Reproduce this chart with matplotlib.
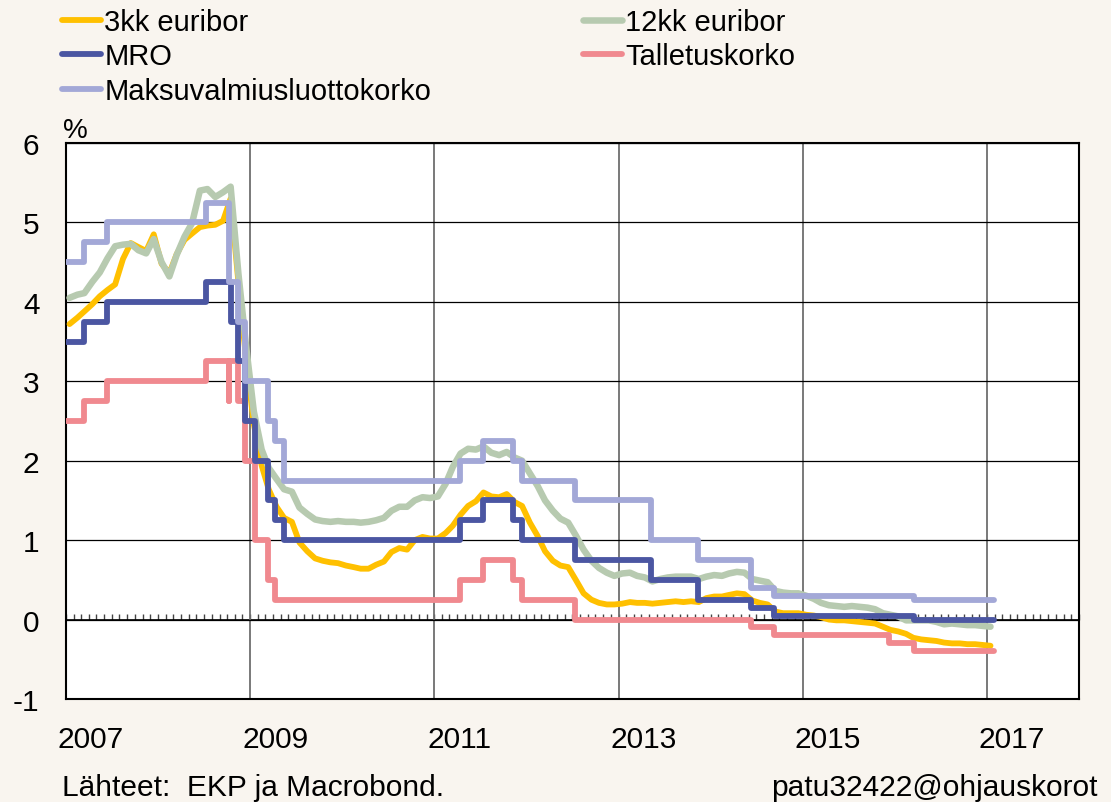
"""Euribor and ECB policy rates, 2007-2017."""

import matplotlib.dates as mdates
import matplotlib.pyplot as plt
import matplotlib.ticker as mticker
import pandas as pd

plt.rcParams["font.family"] = ["Liberation Sans", "DejaVu Sans"]
plt.rcParams["axes.unicode_minus"] = False

# monthly values (%), Jan 2007 .. Jan 2017
euribor_3m = [
    3.72, 3.80, 3.88, 3.97, 4.07, 4.15, 4.22, 4.54, 4.74, 4.69, 4.64, 4.85,
    4.48, 4.36, 4.60, 4.78, 4.86, 4.94, 4.96, 4.97, 5.02, 5.30, 4.24, 3.29,
    2.46, 1.94, 1.64, 1.42, 1.28, 1.23, 0.97, 0.86, 0.77, 0.74, 0.72, 0.71,
    0.68, 0.66, 0.64, 0.64, 0.69, 0.73, 0.85, 0.90, 0.88, 1.00, 1.04, 1.02,
    1.02, 1.09, 1.18, 1.32, 1.43, 1.49, 1.60, 1.55, 1.54, 1.58, 1.48, 1.43,
    1.22, 1.05, 0.86, 0.74, 0.68, 0.66, 0.50, 0.33, 0.25, 0.21, 0.19, 0.19,
    0.20, 0.22, 0.21, 0.21, 0.20, 0.21, 0.22, 0.23, 0.22, 0.23, 0.22, 0.27,
    0.29, 0.29, 0.31, 0.33, 0.32, 0.24, 0.21, 0.19, 0.10, 0.08, 0.08, 0.08,
    0.06, 0.05, 0.03, 0.00, -0.01, -0.01, -0.02, -0.03, -0.04, -0.05, -0.09, -0.13,
    -0.15, -0.18, -0.23, -0.25, -0.26, -0.27, -0.29, -0.30, -0.30, -0.31, -0.31, -0.32,
    -0.33,
]
euribor_12m = [
    4.05, 4.09, 4.11, 4.25, 4.37, 4.55, 4.70, 4.72, 4.73, 4.65, 4.61, 4.79,
    4.50, 4.32, 4.59, 4.82, 4.99, 5.40, 5.42, 5.32, 5.38, 5.45, 4.35, 3.45,
    2.62, 2.14, 1.91, 1.77, 1.64, 1.61, 1.41, 1.33, 1.26, 1.24, 1.23, 1.24,
    1.23, 1.23, 1.22, 1.23, 1.25, 1.28, 1.37, 1.42, 1.42, 1.50, 1.54, 1.53,
    1.55, 1.71, 1.92, 2.09, 2.15, 2.14, 2.18, 2.10, 2.07, 2.11, 2.04, 2.00,
    1.84, 1.68, 1.50, 1.37, 1.27, 1.22, 1.06, 0.88, 0.74, 0.65, 0.59, 0.55,
    0.58, 0.59, 0.55, 0.53, 0.48, 0.51, 0.53, 0.54, 0.54, 0.54, 0.51, 0.54,
    0.56, 0.55, 0.58, 0.60, 0.59, 0.51, 0.49, 0.47, 0.36, 0.34, 0.33, 0.33,
    0.30, 0.26, 0.21, 0.18, 0.17, 0.16, 0.17, 0.16, 0.15, 0.13, 0.08, 0.06,
    0.04, -0.01, -0.01, -0.01, -0.01, -0.03, -0.06, -0.05, -0.06, -0.07, -0.07, -0.08,
    -0.09,
]

# ECB policy rates: dates of change and new level
mro_dates = [
    "2007-01-01", "2007-03-14", "2007-06-13", "2008-07-09", "2008-10-15",
    "2008-11-12", "2008-12-10", "2009-01-21", "2009-03-11", "2009-04-08",
    "2009-05-13", "2011-04-13", "2011-07-13", "2011-11-09", "2011-12-14",
    "2012-07-11", "2013-05-08", "2013-11-13", "2014-06-11", "2014-09-10",
    "2016-03-16",
]
mro_rates = [
    3.50, 3.75, 4.00, 4.25, 3.75, 3.25, 2.50, 2.00, 1.50, 1.25, 1.00,
    1.25, 1.50, 1.25, 1.00, 0.75, 0.50, 0.25, 0.15, 0.05, 0.00,
]
deposit_dates = [
    "2007-01-01", "2007-03-14", "2007-06-13", "2008-07-09", "2008-10-08",
    "2008-10-09", "2008-11-12", "2008-12-10", "2009-01-21", "2009-03-11",
    "2009-04-08", "2011-04-13", "2011-07-13", "2011-11-09", "2011-12-14",
    "2012-07-11", "2014-06-11", "2014-09-10", "2015-12-09", "2016-03-16",
]
deposit_rates = [
    2.50, 2.75, 3.00, 3.25, 2.75, 3.25, 2.75, 2.00, 1.00, 0.50, 0.25,
    0.50, 0.75, 0.50, 0.25, 0.00, -0.10, -0.20, -0.30, -0.40,
]
lending_dates = [
    "2007-01-01", "2007-03-14", "2007-06-13", "2008-07-09", "2008-10-08",
    "2008-10-09", "2008-11-12", "2008-12-10", "2009-03-11", "2009-04-08",
    "2009-05-13", "2011-04-13", "2011-07-13", "2011-11-09", "2011-12-14",
    "2012-07-11", "2013-05-08", "2013-11-13", "2014-06-11", "2014-09-10",
    "2016-03-16",
]
lending_rates = [
    4.50, 4.75, 5.00, 5.25, 4.75, 4.25, 3.75, 3.00, 2.50, 2.25, 1.75,
    2.00, 2.25, 2.00, 1.75, 1.50, 1.00, 0.75, 0.40, 0.30, 0.25,
]
end_date = "2017-01-27"
year_labels = [2007, 2009, 2011, 2013, 2015, 2017]

bg = "#f9f5ef"
c_3m = "#ffc000"
c_12m = "#b7cab0"
c_mro = "#4b56a2"
c_dep = "#f0898f"
c_lend = "#a3a8d7"
lw = 4.2


def step_series(dates, rates):
    x = pd.to_datetime(list(dates) + [end_date])
    y = list(rates) + [rates[-1]]
    return x, y


fig = plt.figure(figsize=(11.11, 8.03), dpi=100, facecolor=bg)
ax = fig.add_axes([0.0594, 0.1283, 0.9118, 0.6924])
ax.set_facecolor("white")

months = pd.date_range("2007-01-01", periods=len(euribor_3m), freq="MS") + pd.Timedelta(days=14)

ax.plot(months, euribor_3m, color=c_3m, lw=lw, zorder=3, label="3kk euribor",
        solid_capstyle="round")
ax.plot(months, euribor_12m, color=c_12m, lw=lw + 0.5, zorder=4, label="12kk euribor",
        solid_capstyle="round")
x, y = step_series(deposit_dates, deposit_rates)
ax.step(x, y, where="post", color=c_dep, lw=lw, zorder=5, label="Talletuskorko",
        solid_capstyle="round")
x, y = step_series(mro_dates, mro_rates)
ax.step(x, y, where="post", color=c_mro, lw=lw, zorder=6, label="MRO",
        solid_capstyle="round")
x, y = step_series(lending_dates, lending_rates)
ax.step(x, y, where="post", color=c_lend, lw=lw, zorder=7,
        label="Maksuvalmiusluottokorko", solid_capstyle="round")

ax.set_xlim(pd.Timestamp("2007-01-01"), pd.Timestamp("2018-01-01"))
ax.set_ylim(-1, 6)

grid_years = [mdates.date2num(pd.Timestamp(f"{yr}-01-01")) for yr in year_labels]
label_pos = [mdates.date2num(pd.Timestamp(f"{yr}-04-10")) for yr in year_labels]
ax.xaxis.set_major_locator(mticker.FixedLocator(grid_years))
ax.xaxis.set_major_formatter(mticker.NullFormatter())
ax.xaxis.set_minor_locator(mticker.FixedLocator(label_pos))
ax.xaxis.set_minor_formatter(mticker.FixedFormatter([str(yr) for yr in year_labels]))
ax.tick_params(axis="x", which="both", length=0, pad=19, labelsize=21.5)
ax.set_yticks(range(-1, 7))
ax.tick_params(axis="y", length=0, pad=19, labelsize=21.5)

ax.grid(axis="x", which="major", color="#6e6e6e", lw=1.3, zorder=1)
ax.grid(axis="y", color="black", lw=0.9, zorder=1)
ax.set_axisbelow(True)
for spine in ax.spines.values():
    spine.set_linewidth(1.5)
    spine.set_color("black")

# month ticks along the zero line
zero_axis = ax.secondary_xaxis(1 / 7)
month_ticks = mdates.date2num(pd.date_range("2007-01-01", "2018-01-01", freq="MS"))
zero_axis.xaxis.set_major_locator(mticker.FixedLocator(month_ticks))
zero_axis.tick_params(direction="in", length=4.5, width=1.0, color="#444444",
                      labelbottom=False, labeltop=False)
zero_axis.spines["bottom"].set_linewidth(1.2)

handles, labels = ax.get_legend_handles_labels()
order = ["3kk euribor", "MRO", "Maksuvalmiusluottokorko", "12kk euribor", "Talletuskorko"]
by_label = dict(zip(labels, handles))
fig.legend(
    [by_label[k] for k in order],
    order,
    loc="upper left",
    bbox_to_anchor=(62 / 1111, 1 - 9 / 803),
    ncol=2,
    frameon=False,
    fontsize=21,
    handlelength=1.35,
    handletextpad=0.1,
    columnspacing=5.2,
    labelspacing=0.22,
    borderpad=0,
    borderaxespad=0,
)

fig.text(63 / 1111, 1 - 138 / 803, "%", fontsize=20, va="baseline")
fig.text(62 / 1111, 1 - 796 / 803, "Lähteet:  EKP ja Macrobond.", fontsize=21.5,
         va="baseline")
fig.text(1098 / 1111, 1 - 796 / 803, "patu32422@ohjauskorot", fontsize=21.5,
         va="baseline", ha="right")

fig.savefig("out.png", dpi=100, facecolor=bg)
